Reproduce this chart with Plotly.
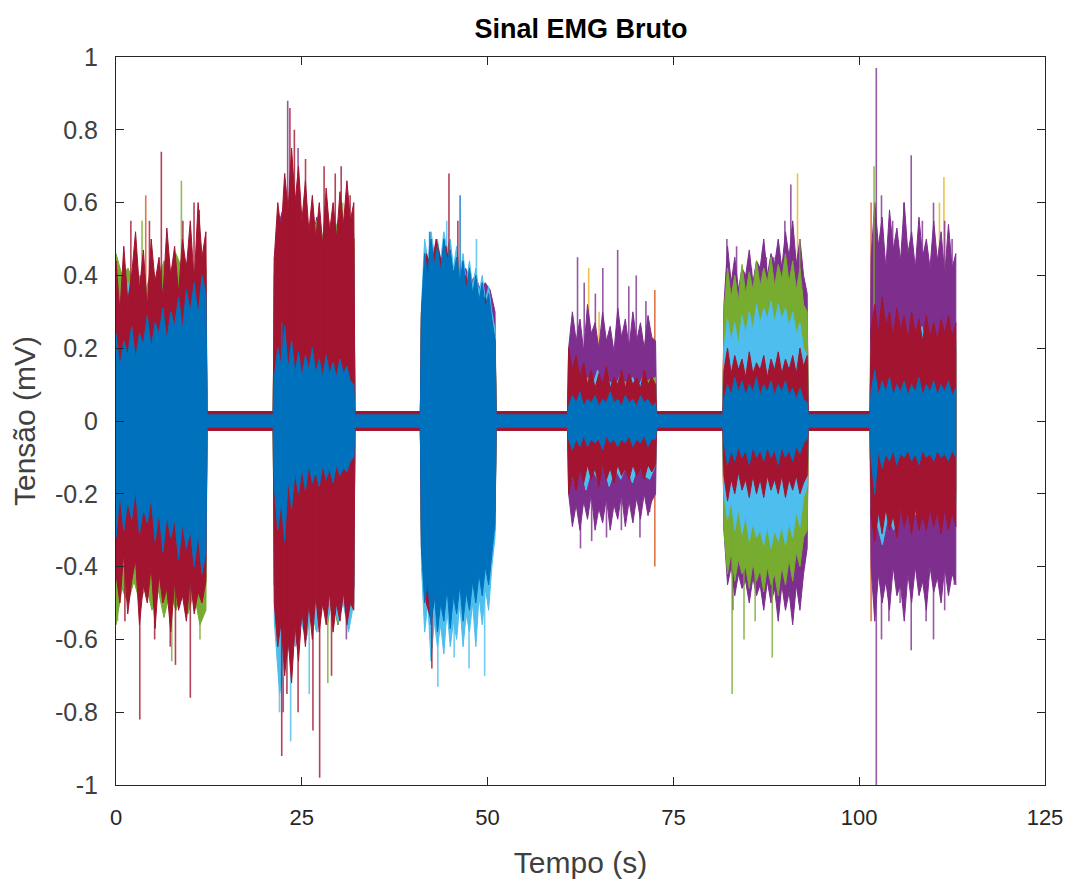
import numpy as np
import plotly.graph_objects as go

# ---------------- data ----------------
bursts = [(0.0, 12.1), (21.3, 32.0), (41.1, 51.0), (60.9, 72.6), (81.8, 93.0), (101.6, 113.0)]

channel_names = ["Canal 2", "Canal 3", "Canal 4", "Canal 5", "Canal 6", "Canal 7", "Canal 8"]
channel_colors = ["#D95319", "#EDB120", "#7E2F8E", "#77AC30", "#4DBEEE", "#A2142F", "#0072BD"]
baseline = [0.012, 0.012, 0.015, 0.015, 0.018, 0.026, 0.017]

# upper / lower envelope per burst (mV), samples spread evenly over each burst
orange_up = [[0.30, 0.28, 0.32, 0.3, 0.33, 0.3], [0.45, 0.5, 0.48, 0.5, 0.5, 0.5], [0.3, 0.35, 0.33, 0.3, 0.28, 0.25],
             [0.08, 0.09, 0.08, 0.09, 0.08, 0.09], [0.3, 0.32, 0.3, 0.33, 0.3, 0.28], [0.22, 0.2, 0.22, 0.2, 0.21, 0.2]]
orange_lo = [[-0.33, -0.3, -0.35, -0.32, -0.34, -0.33], [-0.45, -0.5, -0.48, -0.5, -0.47, -0.45], [-0.3, -0.35, -0.33, -0.3, -0.3, -0.25],
             [-0.08, -0.09, -0.08, -0.09, -0.08, -0.09], [-0.3, -0.32, -0.3, -0.33, -0.3, -0.28], [-0.22, -0.2, -0.22, -0.2, -0.21, -0.2]]
yellow_up = [[0.30, 0.32, 0.3, 0.33, 0.3, 0.32], [0.45, 0.5, 0.48, 0.5, 0.5, 0.48], [0.3, 0.35, 0.33, 0.32, 0.3, 0.25],
             [0.09, 0.1, 0.09, 0.1, 0.09, 0.1], [0.3, 0.32, 0.33, 0.35, 0.36, 0.3], [0.22, 0.22, 0.2, 0.22, 0.22, 0.2]]
yellow_lo = [[-0.32, -0.3, -0.33, -0.32, -0.3, -0.32], [-0.45, -0.5, -0.48, -0.5, -0.47, -0.45], [-0.3, -0.35, -0.33, -0.3, -0.3, -0.25],
             [-0.09, -0.1, -0.09, -0.1, -0.09, -0.1], [-0.3, -0.32, -0.33, -0.35, -0.33, -0.3], [-0.22, -0.22, -0.2, -0.22, -0.2, -0.2]]
purple_up = [[0.35, 0.3, 0.36, 0.32, 0.38, 0.33, 0.36, 0.34, 0.38, 0.35, 0.37, 0.36],
             [0.4, 0.55, 0.6, 0.5, 0.58, 0.5, 0.55, 0.48, 0.56, 0.48, 0.54, 0.48, 0.55, 0.48, 0.55, 0.5],
             [0.3, 0.42, 0.4, 0.45, 0.4, 0.44, 0.4, 0.42, 0.4, 0.42, 0.38, 0.4, 0.36, 0.38, 0.36, 0.3],
             [0.2, 0.3, 0.22, 0.28, 0.19, 0.32, 0.24, 0.27, 0.2, 0.3, 0.22, 0.26, 0.19, 0.31, 0.23, 0.28, 0.2, 0.3, 0.22, 0.27, 0.2, 0.29, 0.23, 0.22],
             [0.32, 0.48, 0.38, 0.45, 0.36, 0.42, 0.4, 0.47, 0.38, 0.44, 0.42, 0.5, 0.4, 0.46, 0.43, 0.5, 0.42, 0.52, 0.45, 0.55, 0.43, 0.5, 0.4, 0.35],
             [0.45, 0.6, 0.48, 0.56, 0.42, 0.58, 0.47, 0.53, 0.44, 0.6, 0.46, 0.52, 0.42, 0.56, 0.45, 0.5, 0.42, 0.55, 0.44, 0.52, 0.4, 0.54, 0.42, 0.46]]
purple_lo = [[-0.38, -0.34, -0.4, -0.35, -0.4, -0.36, -0.4, -0.37, -0.42, -0.38, -0.4, -0.38],
             [-0.45, -0.6, -0.65, -0.55, -0.6, -0.52, -0.58, -0.5, -0.56, -0.48, -0.55, -0.47, -0.56, -0.48, -0.52, -0.46],
             [-0.35, -0.45, -0.42, -0.48, -0.42, -0.46, -0.42, -0.45, -0.4, -0.43, -0.4, -0.42, -0.38, -0.4, -0.35, -0.3],
             [-0.2, -0.29, -0.23, -0.3, -0.22, -0.27, -0.2, -0.3, -0.24, -0.28, -0.21, -0.3, -0.23, -0.27, -0.2, -0.29, -0.22, -0.28, -0.21, -0.27, -0.2, -0.26, -0.22, -0.2],
             [-0.3, -0.45, -0.4, -0.48, -0.42, -0.46, -0.44, -0.5, -0.43, -0.48, -0.45, -0.52, -0.44, -0.5, -0.46, -0.55, -0.45, -0.52, -0.47, -0.56, -0.45, -0.52, -0.42, -0.35],
             [-0.4, -0.55, -0.42, -0.5, -0.44, -0.52, -0.4, -0.48, -0.45, -0.55, -0.42, -0.5, -0.4, -0.48, -0.44, -0.52, -0.4, -0.47, -0.43, -0.5, -0.4, -0.48, -0.42, -0.45]]
green_up = [[0.46, 0.4, 0.42, 0.38, 0.4, 0.36, 0.42, 0.38, 0.44, 0.4, 0.46, 0.42, 0.44, 0.4, 0.46, 0.42],
            [0.4, 0.5, 0.55, 0.48, 0.54, 0.48, 0.52, 0.47, 0.55, 0.5, 0.58, 0.48, 0.55, 0.48, 0.55, 0.5],
            [0.3, 0.4, 0.38, 0.42, 0.38, 0.4, 0.37, 0.4, 0.35, 0.38, 0.34, 0.36, 0.3, 0.32, 0.3, 0.25],
            [0.1, 0.12, 0.1, 0.11, 0.1, 0.12],
            [0.3, 0.42, 0.34, 0.4, 0.33, 0.43, 0.35, 0.41, 0.36, 0.44, 0.37, 0.42, 0.38, 0.45, 0.37, 0.43, 0.39, 0.46, 0.38, 0.44, 0.36, 0.42, 0.32, 0.3],
            [0.2, 0.22, 0.2, 0.21, 0.2, 0.22]]
green_lo = [[-0.56, -0.46, -0.5, -0.44, -0.5, -0.45, -0.52, -0.46, -0.54, -0.47, -0.52, -0.46, -0.53, -0.47, -0.56, -0.52],
            [-0.45, -0.58, -0.62, -0.52, -0.6, -0.5, -0.6, -0.52, -0.58, -0.48, -0.56, -0.48, -0.56, -0.48, -0.52, -0.46],
            [-0.35, -0.45, -0.42, -0.48, -0.42, -0.45, -0.4, -0.45, -0.4, -0.42, -0.38, -0.4, -0.36, -0.38, -0.33, -0.3],
            [-0.1, -0.12, -0.1, -0.11, -0.1, -0.12],
            [-0.3, -0.42, -0.36, -0.44, -0.38, -0.42, -0.4, -0.46, -0.39, -0.44, -0.41, -0.47, -0.4, -0.45, -0.42, -0.48, -0.4, -0.45, -0.38, -0.44, -0.36, -0.4, -0.32, -0.3],
            [-0.2, -0.22, -0.2, -0.21, -0.2, -0.22]]
lblue_up = [[0.35, 0.3, 0.38, 0.32, 0.35, 0.3, 0.36, 0.33, 0.38, 0.35, 0.37, 0.34, 0.38, 0.36, 0.4, 0.38],
            [0.35, 0.48, 0.55, 0.45, 0.5, 0.44, 0.48, 0.42, 0.48, 0.42, 0.46, 0.4, 0.48, 0.42, 0.48, 0.45],
            [0.32, 0.5, 0.44, 0.52, 0.46, 0.5, 0.44, 0.52, 0.47, 0.5, 0.42, 0.48, 0.4, 0.46, 0.38, 0.44, 0.37, 0.42, 0.35, 0.4, 0.33, 0.37, 0.3, 0.25],
            [0.1, 0.13, 0.08, 0.12, 0.09, 0.14, 0.08, 0.11, 0.09, 0.13, 0.08, 0.12, 0.09, 0.13, 0.08, 0.1],
            [0.2, 0.28, 0.22, 0.27, 0.21, 0.29, 0.24, 0.3, 0.25, 0.32, 0.27, 0.31, 0.28, 0.33, 0.27, 0.32, 0.28, 0.31, 0.26, 0.3, 0.24, 0.27, 0.2, 0.18],
            [0.22, 0.26, 0.2, 0.24, 0.21, 0.25, 0.2, 0.23, 0.21, 0.26, 0.2, 0.24, 0.21, 0.23, 0.2, 0.22]]
lblue_lo = [[-0.4, -0.35, -0.38, -0.33, -0.36, -0.35, -0.38, -0.36, -0.4, -0.37, -0.4, -0.38, -0.42, -0.4, -0.43, -0.4],
            [-0.55, -0.75, -0.68, -0.6, -0.62, -0.55, -0.6, -0.5, -0.58, -0.5, -0.55, -0.48, -0.55, -0.5, -0.58, -0.5],
            [-0.4, -0.58, -0.5, -0.66, -0.55, -0.62, -0.56, -0.64, -0.52, -0.62, -0.55, -0.6, -0.5, -0.62, -0.53, -0.58, -0.5, -0.62, -0.48, -0.56, -0.46, -0.52, -0.4, -0.32],
            [-0.12, -0.17, -0.12, -0.19, -0.13, -0.16, -0.12, -0.18, -0.13, -0.16, -0.12, -0.17, -0.12, -0.15, -0.16, -0.12],
            [-0.2, -0.27, -0.22, -0.3, -0.24, -0.31, -0.26, -0.33, -0.28, -0.32, -0.3, -0.34, -0.29, -0.35, -0.3, -0.33, -0.29, -0.34, -0.28, -0.32, -0.25, -0.29, -0.21, -0.18],
            [-0.24, -0.28, -0.34, -0.26, -0.3, -0.24, -0.27, -0.23, -0.26, -0.24, -0.25, -0.23, -0.25, -0.24, -0.23, -0.24]]
red_up = [[0.44, 0.3, 0.48, 0.33, 0.4, 0.52, 0.36, 0.47, 0.31, 0.5, 0.38, 0.45, 0.34, 0.53, 0.4, 0.48, 0.35, 0.5, 0.42, 0.55, 0.38, 0.6, 0.45, 0.52],
          [0.45, 0.6, 0.52, 0.68, 0.58, 0.75, 0.6, 0.7, 0.55, 0.66, 0.52, 0.62, 0.5, 0.6, 0.48, 0.64, 0.52, 0.6, 0.5, 0.63, 0.54, 0.66, 0.55, 0.6],
          [0.3, 0.46, 0.42, 0.5, 0.44, 0.48, 0.4, 0.42, 0.36, 0.4, 0.35, 0.36, 0.3, 0.34, 0.3, 0.22],
          [0.2, 0.14, 0.18, 0.12, 0.16, 0.1, 0.14, 0.09, 0.13, 0.1, 0.15, 0.09, 0.12, 0.1, 0.14, 0.09, 0.13, 0.1, 0.12, 0.09, 0.14, 0.1, 0.12, 0.1],
          [0.14, 0.2, 0.13, 0.18, 0.14, 0.17, 0.12, 0.19, 0.13, 0.16, 0.14, 0.18, 0.12, 0.17, 0.14, 0.19, 0.13, 0.17, 0.14, 0.18, 0.13, 0.2, 0.15, 0.18],
          [0.25, 0.32, 0.24, 0.34, 0.26, 0.3, 0.23, 0.31, 0.25, 0.29, 0.22, 0.3, 0.24, 0.28, 0.22, 0.29, 0.23, 0.27, 0.22, 0.28, 0.24, 0.29, 0.23, 0.27]]
red_lo = [[-0.42, -0.5, -0.36, -0.53, -0.44, -0.38, -0.56, -0.45, -0.5, -0.4, -0.57, -0.42, -0.5, -0.46, -0.58, -0.44, -0.52, -0.48, -0.55, -0.43, -0.53, -0.47, -0.5, -0.44],
          [-0.5, -0.62, -0.55, -0.7, -0.6, -0.72, -0.56, -0.66, -0.52, -0.62, -0.5, -0.6, -0.48, -0.58, -0.5, -0.56, -0.47, -0.58, -0.5, -0.55, -0.47, -0.56, -0.5, -0.52],
          [-0.35, -0.5, -0.55, -0.45, -0.5, -0.42, -0.48, -0.4, -0.45, -0.4, -0.42, -0.38, -0.4, -0.35, -0.33, -0.25],
          [-0.2, -0.15, -0.19, -0.13, -0.17, -0.12, -0.16, -0.13, -0.18, -0.12, -0.16, -0.13, -0.17, -0.12, -0.15, -0.13, -0.16, -0.12, -0.15, -0.13, -0.16, -0.12, -0.14, -0.12],
          [-0.15, -0.22, -0.16, -0.2, -0.14, -0.19, -0.16, -0.21, -0.15, -0.2, -0.16, -0.21, -0.15, -0.19, -0.16, -0.2, -0.15, -0.21, -0.16, -0.19, -0.15, -0.2, -0.17, -0.15],
          [-0.26, -0.33, -0.25, -0.31, -0.24, -0.3, -0.26, -0.32, -0.24, -0.29, -0.25, -0.31, -0.24, -0.3, -0.26, -0.3, -0.24, -0.29, -0.25, -0.31, -0.24, -0.3, -0.25, -0.29]]
blue_up = [[0.24, 0.15, 0.22, 0.18, 0.26, 0.17, 0.24, 0.21, 0.29, 0.2, 0.27, 0.24, 0.31, 0.22, 0.3, 0.26, 0.34, 0.25, 0.36, 0.3, 0.38, 0.29, 0.4, 0.35],
           [0.12, 0.2, 0.15, 0.26, 0.14, 0.22, 0.13, 0.19, 0.12, 0.18, 0.14, 0.2, 0.13, 0.17, 0.12, 0.18, 0.13, 0.16, 0.12, 0.17, 0.13, 0.15, 0.11, 0.1],
           [0.3, 0.46, 0.4, 0.5, 0.43, 0.48, 0.41, 0.5, 0.44, 0.47, 0.4, 0.45, 0.38, 0.44, 0.36, 0.42, 0.35, 0.4, 0.33, 0.38, 0.31, 0.35, 0.28, 0.22],
           [0.04, 0.07, 0.05, 0.08, 0.04, 0.06, 0.05, 0.07, 0.04, 0.06, 0.05, 0.08, 0.05, 0.06, 0.04, 0.07, 0.05, 0.06, 0.04, 0.07, 0.05, 0.06, 0.04, 0.05],
           [0.06, 0.1, 0.07, 0.12, 0.08, 0.11, 0.07, 0.1, 0.08, 0.12, 0.07, 0.1, 0.08, 0.11, 0.07, 0.1, 0.08, 0.11, 0.07, 0.09, 0.06, 0.09, 0.06, 0.05],
           [0.08, 0.14, 0.07, 0.11, 0.08, 0.12, 0.07, 0.1, 0.08, 0.11, 0.07, 0.1, 0.08, 0.12, 0.07, 0.1, 0.08, 0.11, 0.07, 0.1, 0.08, 0.11, 0.07, 0.09]]
blue_lo = [[-0.32, -0.2, -0.3, -0.22, -0.27, -0.19, -0.31, -0.24, -0.28, -0.21, -0.33, -0.25, -0.36, -0.26, -0.32, -0.27, -0.38, -0.28, -0.35, -0.3, -0.4, -0.31, -0.42, -0.36],
           [-0.18, -0.3, -0.22, -0.33, -0.16, -0.24, -0.14, -0.2, -0.13, -0.19, -0.12, -0.17, -0.14, -0.18, -0.12, -0.16, -0.13, -0.17, -0.12, -0.15, -0.13, -0.14, -0.11, -0.1],
           [-0.35, -0.5, -0.44, -0.56, -0.47, -0.58, -0.5, -0.55, -0.46, -0.57, -0.48, -0.53, -0.45, -0.55, -0.47, -0.52, -0.44, -0.5, -0.42, -0.48, -0.4, -0.45, -0.36, -0.28],
           [-0.05, -0.08, -0.05, -0.07, -0.04, -0.07, -0.05, -0.06, -0.05, -0.08, -0.04, -0.06, -0.05, -0.07, -0.05, -0.06, -0.04, -0.07, -0.05, -0.06, -0.04, -0.07, -0.05, -0.05],
           [-0.06, -0.12, -0.08, -0.11, -0.07, -0.1, -0.08, -0.12, -0.07, -0.1, -0.08, -0.11, -0.07, -0.1, -0.08, -0.12, -0.07, -0.1, -0.08, -0.11, -0.07, -0.09, -0.06, -0.05],
           [-0.1, -0.2, -0.08, -0.13, -0.09, -0.11, -0.08, -0.12, -0.09, -0.1, -0.08, -0.11, -0.09, -0.12, -0.08, -0.1, -0.09, -0.11, -0.08, -0.1, -0.09, -0.11, -0.08, -0.1]]

# isolated peaks (time s, value mV)
orange_spk_t = [4.0, 31.0, 72.5, 72.5, 101.6, 101.6]
orange_spk_v = [0.62, 0.62, 0.36, -0.4, 0.6, -0.55]
yellow_spk_t = [63.6, 65.0, 91.7, 87.0, 89.0, 111.4, 110.8]
yellow_spk_v = [0.42, 0.3, 0.68, 0.47, 0.45, 0.67, 0.6]
purple_spk_t = [23.1, 24.5, 22.5, 31.0, 62.1, 63.0, 64.5, 65.5, 67.5, 69.0, 70.0, 71.3, 62.5, 64.0, 66.0, 68.0, 70.5, 71.8,
                82.2, 83.5, 85.5, 87.5, 88.5, 90.0, 90.8, 92.0, 91.0, 88.0, 85.0, 83.0,
                102.3, 102.3, 103.0, 104.5, 106.0, 107.0, 108.5, 110.0, 111.5, 112.5, 104.0, 105.5, 107.0, 109.0, 110.0, 111.5, 112.8, 103.0]
purple_spk_v = [0.88, 0.75, -0.8, -0.6, 0.45, 0.38, 0.35, 0.42, 0.47, 0.37, 0.4, 0.33, -0.35, -0.33, -0.32, -0.3, -0.32, -0.25,
                0.5, 0.48, 0.42, 0.45, 0.45, 0.55, 0.65, -0.5, -0.48, -0.47, -0.46, -0.52,
                0.97, -1.0, 0.62, 0.55, 0.6, 0.73, 0.55, 0.6, 0.55, 0.5, -0.55, -0.5, -0.63, -0.55, -0.6, -0.52, -0.45, -0.6]
green_spk_t = [8.8, 0.2, 7.5, 11.3, 3.5, 28.5, 30.5, 82.9, 84.5, 88.3, 86.0, 92.0, 102.0]
green_spk_v = [0.66, -0.55, -0.66, -0.6, 0.55, -0.72, 0.6, -0.75, -0.6, -0.65, -0.55, 0.5, 0.7]
lblue_spk_t = [43.3, 44.5, 49.6, 47.5, 45.5, 48.5, 23.5, 22.0, 26.0]
lblue_spk_v = [-0.73, 0.55, -0.7, -0.68, -0.65, 0.5, -0.88, -0.8, -0.75]
red_spk_t = [2.0, 3.2, 4.5, 6.1, 7.3, 8.0, 9.0, 10.0, 10.5, 11.2, 1.2, 5.2,
             22.3, 23.4, 24.0, 24.5, 25.5, 26.5, 27.4, 28.0, 29.5, 30.3, 31.5, 23.0, 29.0,
             44.8, 42.5, 46.0]
red_spk_v = [0.55, -0.82, 0.55, 0.74, -0.62, -0.67, 0.55, -0.76, 0.6, 0.58, -0.55, -0.6,
             -0.92, 0.86, 0.8, -0.8, 0.72, -0.85, -0.98, 0.7, 0.68, 0.7, 0.62, -0.75, -0.7,
             0.68, -0.68, 0.55]
blue_spk_t = [46.3, 42.2, 22.3]
blue_spk_v = [0.62, 0.52, 0.27]

x_ticks = [0, 25, 50, 75, 100, 125]
y_ticks = [-1, -0.8, -0.6, -0.4, -0.2, 0, 0.2, 0.4, 0.6, 0.8, 1]
y_tick_text = ["-1", "-0.8", "-0.6", "-0.4", "-0.2", "0", "0.2", "0.4", "0.6", "0.8", "1"]

uppers = [orange_up, yellow_up, purple_up, green_up, lblue_up, red_up, blue_up]
lowers = [orange_lo, yellow_lo, purple_lo, green_lo, lblue_lo, red_lo, blue_lo]
spk_t = [orange_spk_t, yellow_spk_t, purple_spk_t, green_spk_t, lblue_spk_t, red_spk_t, blue_spk_t]
spk_v = [orange_spk_v, yellow_spk_v, purple_spk_v, green_spk_v, lblue_spk_v, red_spk_v, blue_spk_v]


def envelope(up_lists, lo_lists, base):
    xu, yu, xl, yl = [], [], [], []
    for k, ((b0, b1), U, L) in enumerate(zip(bursts, up_lists, lo_lists)):
        xu += list(np.linspace(b0, b1, len(U))); yu += list(U)
        xl += list(np.linspace(b0, b1, len(L))); yl += list(L)
        if k + 1 < len(bursts):
            nb = bursts[k + 1][0]
            xu += [b1 + 0.15, nb - 0.15]; yu += [base, base]
            xl += [b1 + 0.15, nb - 0.15]; yl += [-base, -base]
    return xu + xl[::-1] + [xu[0]], yu + yl[::-1] + [yu[0]]


fig = go.Figure()
for name, col, base, U, L, st, sv in zip(channel_names, channel_colors, baseline, uppers, lowers, spk_t, spk_v):
    px, py = envelope(U, L, base)
    fig.add_trace(go.Scatter(x=px, y=py, mode="lines", fill="toself", fillcolor=col,
                             line=dict(color=col, width=1), name=name, showlegend=False,
                             hoverinfo="skip"))
    sx, sy = [], []
    for t, v in zip(st, sv):
        sx += [t, t, None]
        sy += [0, v, None]
    if sx:
        fig.add_trace(go.Scatter(x=sx, y=sy, mode="lines", line=dict(color=col, width=1.6),
                                 opacity=0.8, showlegend=False, hoverinfo="skip"))

FONT = "Liberation Sans, Arial, Helvetica, sans-serif"
# the page body adds an 8 px offset, so margins are shifted accordingly
fig.update_layout(
    width=1073, height=880,
    margin=dict(l=108, r=36, t=49, b=103, autoexpand=False),
    paper_bgcolor="white", plot_bgcolor="white",
    title=dict(text="<b>Sinal EMG Bruto</b>", x=0.534, xanchor="center", y=0.977, yanchor="middle",
               font=dict(family=FONT, size=27, color="#000000")),
    showlegend=False,
)
fig.update_xaxes(range=[0, 125], tickvals=x_ticks, ticktext=[str(v) for v in x_ticks],
                 ticks="inside", ticklen=8, tickcolor="#262626", showline=True, linecolor="#262626",
                 linewidth=1, mirror="ticks", showgrid=False, zeroline=False, automargin=False,
                 tickfont=dict(family=FONT, size=22, color="#262626"), ticklabelstandoff=13,
                 title=dict(text="Tempo (s)", font=dict(family=FONT, size=30, color="#404040"), standoff=22))
fig.update_yaxes(range=[-1, 1], tickvals=y_ticks, ticktext=y_tick_text,
                 ticks="inside", ticklen=8, tickcolor="#262626", showline=True, linecolor="#262626",
                 linewidth=1, mirror="ticks", showgrid=False, zeroline=False, automargin=False,
                 tickfont=dict(family=FONT, size=25, color="#404040"), ticklabelstandoff=12,
                 title=dict(text="Tensão (mV)", font=dict(family=FONT, size=30, color="#404040"), standoff=12))
fig.write_html("out.html")
